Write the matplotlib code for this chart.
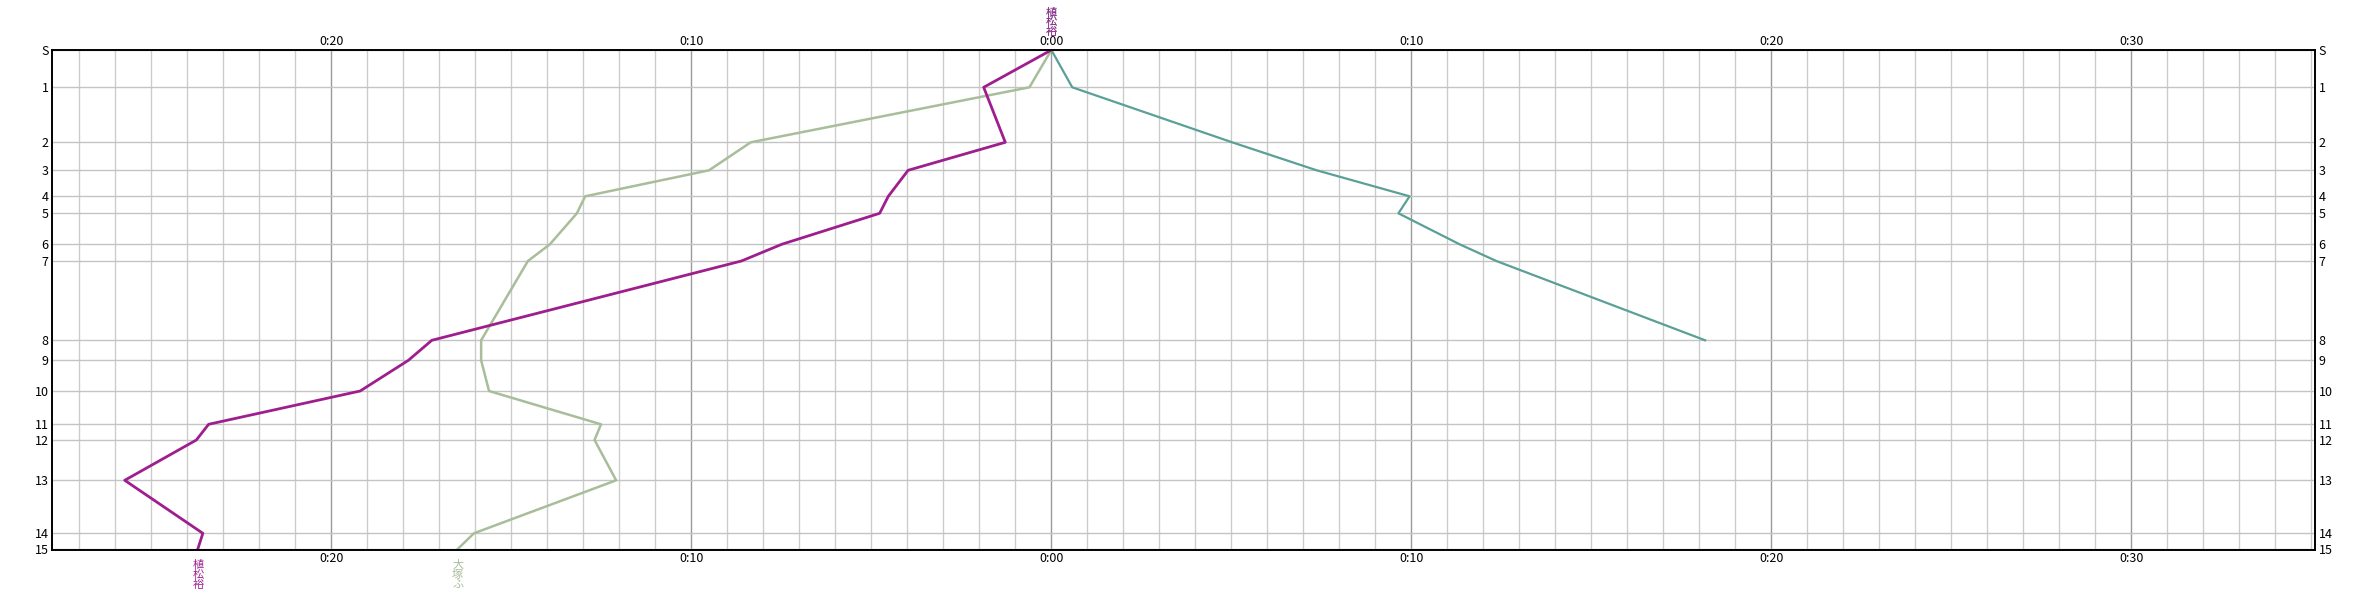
import matplotlib.pyplot as plt
from matplotlib.ticker import FixedLocator, FuncFormatter
import matplotlib.transforms as mtransforms

plt.rcParams['font.family'] = ['Noto Sans CJK JP', 'DejaVu Sans']

# checkpoints and their position along the course (relative distance, top = start)
checkpoints = ['S', '1', '2', '3', '4', '5', '6', '7', '8', '9', '10', '11', '12', '13', '14', '15']
distance = [0, 37.3, 92.3, 120.3, 146.3, 163.3, 194.3, 211, 290.3, 310.3, 341, 374.3, 390, 430.3, 483.3, 499]

# time gap in minutes at each checkpoint (negative = left side)
uematsu = [0, -1.88, -1.28, -3.98, -4.53, -4.77, -7.49, -8.61, -17.21, -17.86, -19.20,
           -23.41, -23.75, -25.74, -23.57, -23.71]
otsuka = [0, -0.61, -8.35, -9.51, -12.95, -13.18, -13.93, -14.54, -15.84, -15.84, -15.62,
          -12.51, -12.69, -12.09, -16.04, -16.49]
teal_runner = [0, 0.58, 5.02, 7.37, 9.95, 9.64, 11.34, 12.36, 18.16]

purple = '#9e1e8e'
sage = '#a9bd9a'
teal = '#5b9f97'

fig = plt.figure(figsize=(23.67, 6), dpi=100)
ax = fig.add_axes([52 / 2367, 50 / 600, (2315 - 52) / 2367, 500 / 600])

ax.set_xlim(-27.76, 35.1)
ax.set_ylim(500, 0)

# grid: every minute light, every ten minutes darker
ax.xaxis.set_minor_locator(FixedLocator(range(-27, 36)))
ax.xaxis.set_major_locator(FixedLocator([-20, -10, 0, 10, 20, 30]))
ax.xaxis.set_major_formatter(FuncFormatter(lambda v, p: '0:%02d' % abs(round(v))))
ax.grid(which='minor', axis='x', color='#cccccc', lw=1)
ax.grid(which='major', axis='x', color='#9a9a9a', lw=1)
ax.set_yticks(distance)
ax.set_yticklabels(checkpoints)
ax.grid(which='major', axis='y', color='#c4c4c4', lw=1)
ax.set_axisbelow(True)

ax.tick_params(axis='x', which='both', length=0, labeltop=True, labelbottom=True,
               labelsize=9, pad=1.5)
ax.tick_params(axis='y', length=0, labelleft=True, labelright=True, labelsize=9, pad=2.5)
for s in ax.spines.values():
    s.set_color('black')
    s.set_linewidth(1.4)

ax.plot(teal_runner, distance[:len(teal_runner)], color=teal, lw=1.6)
ax.plot(otsuka, distance, color=sage, lw=1.8)
ax.plot(uematsu, distance, color=purple, lw=2)

trans = mtransforms.blended_transform_factory(ax.transData, ax.transAxes)
# names stacked vertically
ax.annotate('植\n松\n裕', xy=(0, 1), xycoords=trans, xytext=(0, 9.5), textcoords='offset points',
            ha='center', va='bottom', fontsize=8, color=teal, linespacing=0.95)
ax.annotate('植\n松\n裕', xy=(0, 1), xycoords=trans, xytext=(0, 9.5), textcoords='offset points',
            ha='center', va='bottom', fontsize=8, color=purple, linespacing=0.95)
ax.annotate('植\n松\n裕', xy=(uematsu[-1], 0), xycoords=trans, xytext=(0, -7.5),
            textcoords='offset points', ha='center', va='top', fontsize=8, color=purple,
            linespacing=0.95)
ax.annotate('大\n塚\nふ', xy=(otsuka[-1], 0), xycoords=trans, xytext=(0, -7.5),
            textcoords='offset points', ha='center', va='top', fontsize=8, color=sage,
            linespacing=0.95)

fig.savefig('out.png', dpi=100)
